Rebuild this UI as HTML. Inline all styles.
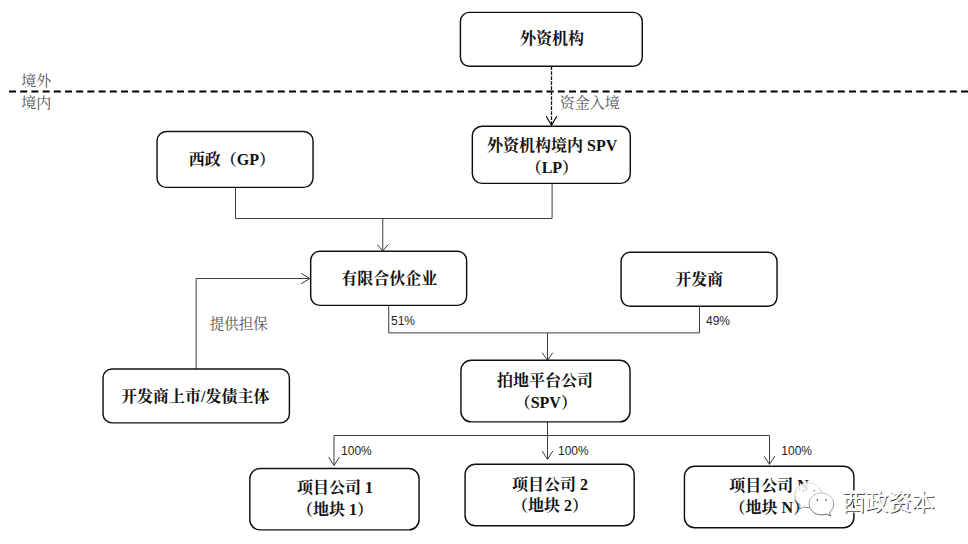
<!DOCTYPE html>
<html lang="zh-CN">
<head>
<meta charset="utf-8">
<title>外资机构投资架构图</title>
<style>
html,body{margin:0;padding:0;background:#fff;}
body{width:968px;height:544px;position:relative;overflow:hidden;font-family:"Liberation Sans",sans-serif;}
#diagram{position:absolute;left:0;top:0;width:968px;height:544px;display:block;}
.t{position:absolute;margin:0;white-space:nowrap;color:transparent;text-align:center;overflow:hidden;
   font-family:"Liberation Serif",serif;}
.t.b{font-weight:bold;font-size:16px;line-height:16px;}
.t.l{font-size:15px;line-height:16px;}
.t.p{font-family:"Liberation Sans",sans-serif;font-size:12px;line-height:12px;}
.t.w{font-family:"Liberation Sans",sans-serif;font-size:22px;line-height:24px;}
.sb{font-family:"Liberation Serif","Noto Serif CJK SC",serif;font-weight:bold;font-size:16px;fill:#111;text-anchor:middle;}
.sl{font-family:"Liberation Serif","Noto Serif CJK SC",serif;font-size:15px;fill:#555;}
.sp{font-family:"Liberation Sans","Noto Sans CJK SC",sans-serif;font-size:12px;fill:#1e1e1e;}
.sw{font-family:"Liberation Sans","Noto Sans CJK SC",sans-serif;font-size:23.2px;}
</style>
</head>
<body>
<svg id="diagram" width="968" height="544" viewBox="0 0 968 544" shape-rendering="geometricPrecision">
<path d="M9,91.6H968" stroke="#000" stroke-width="2" stroke-dasharray="7 4.2" fill="none"/>
<path d="M551.5,66.3V124.6" stroke="#111" stroke-width="1.25" fill="none" stroke-dasharray="3.75 1.25"/>
<path d="M546.2,116.3L551.5,125.2L556.8,116.3" stroke="#111" stroke-width="1.25" fill="none" />
<path d="M235.5,187.4V218.5H552.1V183.4" stroke="#3d3d3d" stroke-width="1.0" fill="none" />
<path d="M382.75,218.5V250.4" stroke="#3d3d3d" stroke-width="1.0" fill="none" />
<path d="M377.35,244.6L382.75,250.9L388.15,244.6" stroke="#3d3d3d" stroke-width="1.0" fill="none" />
<path d="M196.15,368.9V278.5H309.4" stroke="#3d3d3d" stroke-width="1.0" fill="none" />
<path d="M301.1,273.25L309.9,278.5L301.1,283.75" stroke="#3d3d3d" stroke-width="1.0" fill="none" />
<path d="M388.7,305.4V332.9H699.5V306.3" stroke="#3d3d3d" stroke-width="1.0" fill="none" />
<path d="M547.5,332.9V359.8" stroke="#3d3d3d" stroke-width="1.0" fill="none" />
<path d="M542.2,352.7L547.5,360.3L552.8,352.7" stroke="#3d3d3d" stroke-width="1.0" fill="none" />
<path d="M547.5,421.9V458.9" stroke="#3d3d3d" stroke-width="1.0" fill="none" />
<path d="M542.2,451L547.5,459.4L552.8,451" stroke="#3d3d3d" stroke-width="1.0" fill="none" />
<path d="M334,465.1V435.5H769.5V463.9" stroke="#3d3d3d" stroke-width="1.0" fill="none" />
<path d="M328.6,457.1L334,465.6L339.4,457.1" stroke="#3d3d3d" stroke-width="1.0" fill="none" />
<path d="M764.1,456.15L769.5,464.4L774.9,456.15" stroke="#3d3d3d" stroke-width="1.0" fill="none" />
<rect x="460.4" y="12.38" width="181.85" height="53.92" rx="8.99" ry="8.99" fill="#fff" stroke="#101010" stroke-width="1.45"/>
<rect x="157.03" y="131.43" width="156" height="55.94" rx="9.32" ry="9.32" fill="#fff" stroke="#101010" stroke-width="1.45"/>
<rect x="472.33" y="126.33" width="157.97" height="57.04" rx="9.51" ry="9.51" fill="#fff" stroke="#101010" stroke-width="1.45"/>
<rect x="310.68" y="251.33" width="155.95" height="54.04" rx="9.01" ry="9.01" fill="#fff" stroke="#101010" stroke-width="1.45"/>
<rect x="621.07" y="252.28" width="155.96" height="54" rx="9" ry="9" fill="#fff" stroke="#101010" stroke-width="1.45"/>
<rect x="103.03" y="368.93" width="186.36" height="53.94" rx="8.99" ry="8.99" fill="#fff" stroke="#101010" stroke-width="1.45"/>
<rect x="460.93" y="360.33" width="169.11" height="61.54" rx="10.26" ry="10.26" fill="#fff" stroke="#101010" stroke-width="1.45"/>
<rect x="249.83" y="468.43" width="169.21" height="61.44" rx="10.24" ry="10.24" fill="#fff" stroke="#101010" stroke-width="1.45"/>
<rect x="465.07" y="464.33" width="169.12" height="61.44" rx="10.24" ry="10.24" fill="#fff" stroke="#101010" stroke-width="1.45"/>
<rect x="684.43" y="466.33" width="169.46" height="61.44" rx="10.24" ry="10.24" fill="#fff" stroke="#101010" stroke-width="1.45"/>
<text class="sb" x="551.9" y="44.4">外资机构</text>
<text class="sb" x="231.9" y="164.7">西政（GP）</text>
<text class="sb" x="552.2" y="151">外资机构境内 SPV</text>
<text class="sb" x="551.9" y="173.1">（LP）</text>
<text class="sb" x="389.25" y="283.8">有限合伙企业</text>
<text class="sb" x="699.3" y="284.8">开发商</text>
<text class="sb" x="195.3" y="401.7">开发商上市/发债主体</text>
<text class="sb" x="545" y="385.6">拍地平台公司</text>
<text class="sb" x="545.8" y="407.9">（SPV）</text>
<text class="sb" x="334.9" y="493.3">项目公司 1</text>
<text class="sb" x="334.9" y="515.2">（地块 1）</text>
<text class="sb" x="550.1" y="489.6">项目公司 2</text>
<text class="sb" x="549.9" y="511.2">（地块 2）</text>
<text class="sb" x="769.1" y="491.1">项目公司 N</text>
<text class="sb" x="769.4" y="512.7">（地块 N）</text>
<text class="sl" x="21.25" y="86">境外</text>
<text class="sl" x="21.25" y="107.6">境内</text>
<text class="sl" x="559.75" y="107.9">资金入境</text>
<text class="sl" x="209.7" y="329.2" style="font-size:14.5px">提供担保</text>
<text class="sp" x="391" y="324.99">51%</text>
<text class="sp" x="706" y="324.99">49%</text>
<text class="sp" x="341.06" y="454.69">100%</text>
<text class="sp" x="558" y="454.69">100%</text>
<text class="sp" x="781.35" y="454.69">100%</text>
<defs><linearGradient id="wg" gradientUnits="userSpaceOnUse" x1="0" y1="483" x2="0" y2="516"><stop offset="0" stop-color="#dcdcdc"/><stop offset="0.45" stop-color="#a8a8a8"/><stop offset="1" stop-color="#4a4a4a"/></linearGradient></defs>
<g fill="#fff" stroke="url(#wg)" stroke-width="0.85">
<path d="M808.3,482.8c7.5,0,13.6,5.5,13.6,12.4c0,6.9-6.1,12.4-13.6,12.4c-1.6,0-3.1-0.2-4.5-0.7l-4.6,2.2l1-4.2c-3.3-2.3-5.5-5.8-5.5-9.7c0-6.9,6.1-12.4,13.6-12.4z" fill-opacity="0.86"/>
<path d="M821.4,493c6.8,0,12.3,4.9,12.3,11c0,3.3-1.6,6.2-4.2,8.2l0.9,3.8l-4.1-2c-1.5,0.6-3.2,0.9-4.9,0.9c-6.8,0-12.3-4.9-12.3-11c0-6.100,5.5-10.900,12.3-10.900z"/>
</g>
<g fill="#666"><circle cx="817.3" cy="500" r="0.9"/><circle cx="826.1" cy="500" r="0.9"/><circle cx="814.5" cy="490.6" r="0.9" fill="#999"/><circle cx="803.5" cy="490.6" r="0.9" fill="#bbb"/></g>
<text class="sw" x="842" y="510" fill="#fff" stroke="#fff" stroke-width="3" stroke-linejoin="round">西政资本</text>
<text class="sw" x="842" y="510" fill="#262626" transform="translate(0.9,0.9)">西政资本</text>
<text class="sw" x="842" y="510" fill="#fff" stroke="#fff" stroke-width="0.35">西政资本</text>
</svg>
<div class="t b" style="left:519.12px;top:31.52px;width:65.55px;height:15.15px">外资机构</div>
<div class="t b" style="left:194.04px;top:151.81px;width:75.73px;height:15.14px">西政（GP）</div>
<div class="t b" style="left:487.15px;top:138.07px;width:130.1px;height:15.17px">外资机构境内 SPV</div>
<div class="t b" style="left:536.43px;top:160.29px;width:30.94px;height:15.14px">（LP）</div>
<div class="t b" style="left:339.68px;top:270.86px;width:99.14px;height:15.18px">有限合伙企业</div>
<div class="t b" style="left:674.99px;top:271.94px;width:48.62px;height:15.12px">开发商</div>
<div class="t b" style="left:116.94px;top:388.82px;width:156.72px;height:15.17px">开发商上市/发债主体</div>
<div class="t b" style="left:495.76px;top:372.66px;width:98.48px;height:15.07px">拍地平台公司</div>
<div class="t b" style="left:525.1px;top:395.04px;width:41.4px;height:15.14px">（SPV）</div>
<div class="t b" style="left:295.89px;top:480.56px;width:78.03px;height:15.07px">项目公司 1</div>
<div class="t b" style="left:304.41px;top:502.34px;width:60.98px;height:15.14px">（地块 1）</div>
<div class="t b" style="left:511.06px;top:476.86px;width:78.08px;height:15.07px">项目公司 2</div>
<div class="t b" style="left:519.41px;top:498.39px;width:60.98px;height:15.14px">（地块 2）</div>
<div class="t b" style="left:729.05px;top:478.36px;width:80.11px;height:15.07px">项目公司 N</div>
<div class="t b" style="left:737.69px;top:499.89px;width:63.41px;height:15.14px">（地块 N）</div>
<div class="t l" style="left:21.25px;top:73.43px;width:30.86px;height:14.94px">境外</div>
<div class="t l" style="left:21.25px;top:95.06px;width:30.5px;height:14.88px">境内</div>
<div class="t l" style="left:559.75px;top:95.34px;width:62.54px;height:14.93px">资金入境</div>
<div class="t l" style="left:209.7px;top:317.12px;width:57.93px;height:13.57px">提供担保</div>
<div class="t p" style="left:391px;top:314.99px;width:24.22px;height:10.13px">51%</div>
<div class="t p" style="left:706px;top:314.99px;width:24.63px;height:10.13px">49%</div>
<div class="t p" style="left:341.06px;top:444.69px;width:31.05px;height:10.13px">100%</div>
<div class="t p" style="left:558px;top:444.69px;width:31.05px;height:10.13px">100%</div>
<div class="t p" style="left:781.35px;top:444.69px;width:31.05px;height:10.13px">100%</div>
<div class="t w" style="left:842.45px;top:489.74px;width:92.91px;height:22.02px">西政资本</div>
</body>
</html>
